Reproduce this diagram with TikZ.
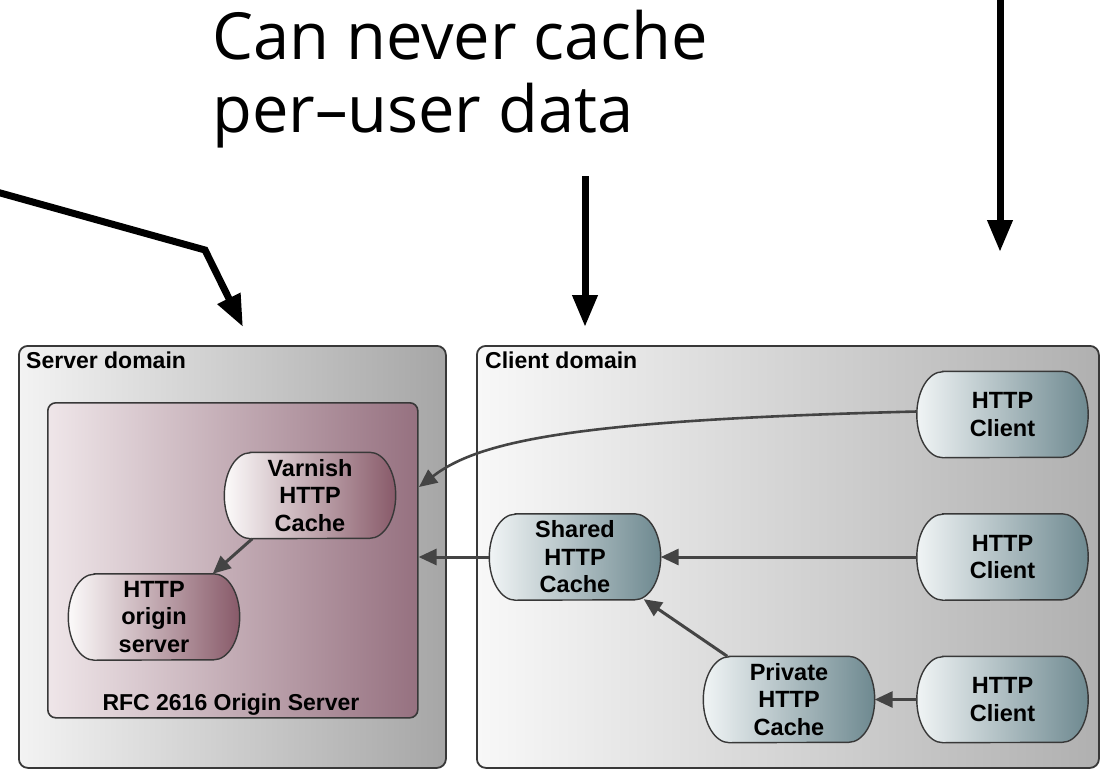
\documentclass[tikz,border=0pt]{standalone}
\usepackage{fontspec}
\setmainfont{Liberation Sans}
\newfontfamily\capfont{Open Sans}
\usetikzlibrary{arrows.meta,calc}
\pgfdeclarelayer{bg}
\pgfdeclarelayer{mid}
\pgfsetlayers{bg,mid,main}
\definecolor{edgegray}{HTML}{383838}
\definecolor{arrgray}{HTML}{444444}
\definecolor{srvL}{HTML}{F3F3F3}
\definecolor{srvR}{HTML}{A6A6A6}
\definecolor{cliL}{HTML}{F8F8F8}
\definecolor{cliR}{HTML}{B0B0B0}
\definecolor{rfcL}{HTML}{EFE6E9}
\definecolor{rfcR}{HTML}{967180}
\definecolor{marL}{HTML}{FCFAFA}
\definecolor{marR}{HTML}{885A69}
\definecolor{bluL}{HTML}{F0F4F5}
\definecolor{bluR}{HTML}{6E8990}
\newcommand\pillpath[1]{($(#1.north west)+(26,0)$) -- ($(#1.north east)+(-26,0)$) arc[start angle=-90,end angle=90,x radius=26,y radius=43] -- ($(#1.south west)+(26,0)$) arc[start angle=90,end angle=270,x radius=26,y radius=43] -- cycle}
\begin{document}
\begin{tikzpicture}[x=1pt,y=-1pt,
  lbl/.style={font=\fontsize{23}{27.5}\selectfont\bfseries, text=black, inner sep=0pt},
  pill/.style={minimum width=171pt, minimum height=86pt, inner sep=0pt, align=center,
    font=\fontsize{23.5}{27.5}\selectfont\bfseries, text=black},
  domainbox/.style={draw=edgegray, line width=1.8pt, rounded corners=9pt, anchor=north west, inner sep=0pt},
  pillmar/.style={draw=edgegray, line width=1.4pt, left color=marL, right color=marR},
  pillblu/.style={draw=edgegray, line width=1.4pt, left color=bluL, right color=bluR},
  arr/.style={draw=arrgray, line width=3pt, -{Triangle[length=18pt,width=16pt]}, arrgray},
  bigarr/.style={draw=black, line width=7pt, line join=miter, -{Triangle[length=32pt,width=24pt]}},
  capline/.style={font=\capfont\fontsize{65}{73}\selectfont, anchor=base west, inner sep=0pt, text=black}]

\path[use as bounding box] (0,0) rectangle (1101,774);

% domain boxes
\begin{pgfonlayer}{bg}
\fill[white] (0,0) rectangle (1101,774);
\node[domainbox, left color=srvL, right color=srvR, minimum width=427pt, minimum height=422pt] (server) at (18,345) {};
\node[domainbox, left color=cliL, right color=cliR, minimum width=622pt, minimum height=422pt] (client) at (476,345) {};
\node[domainbox, line width=1.6pt, rounded corners=8pt, left color=rfcL, right color=rfcR, minimum width=370pt, minimum height=315pt] (rfc) at (47,402) {};
\end{pgfonlayer}

% caption
\node[capline] (cap1) at (212,59) {Can never cache};
\node[capline] (cap2) at (212,132) {per–user data};

\node[lbl, anchor=base west] (slbl) at (26,368) {Server domain};
\node[lbl, anchor=base west] (clbl) at (485,368) {Client domain};
\node[lbl, anchor=base] (rlbl) at (231,710) {RFC 2616 Origin Server};

% pills
\node[pill] (varnish) at (310,495.5) {Varnish\\HTTP\\Cache};
\node[pill] (origin) at (154,617) {HTTP\\origin\\server};
\node[pill] (client1) at (1002.5,414.5) {HTTP\\Client};
\node[pill] (shared) at (575,557) {Shared\\HTTP\\Cache};
\node[pill] (client2) at (1002.5,557) {HTTP\\Client};
\node[pill] (private) at (789,699.5) {Private\\HTTP\\Cache};
\node[pill] (client3) at (1002.5,699.5) {HTTP\\Client};

\begin{pgfonlayer}{mid}
\path[pillmar] \pillpath{varnish};
\path[pillmar] \pillpath{origin};
\path[pillblu] \pillpath{client1};
\path[pillblu] \pillpath{shared};
\path[pillblu] \pillpath{client2};
\path[pillblu] \pillpath{private};
\path[pillblu] \pillpath{client3};
\end{pgfonlayer}

% connectors inside diagram
\coordinate (inA) at (419,487);
\draw[arr, line width=2.6pt] ([yshift=3pt]client1.west) .. controls (580,420) and (480,440) .. (inA);
\draw[arr] (shared.west) -- (shared.west -| rfc.east);
\draw[arr] (client2.west) -- (shared.east);
\draw[arr] ([xshift=24pt]private.north west) -- ([xshift=-17pt,yshift=1pt]shared.south east);
\draw[arr] (client3.west) -- (private.east);
\draw[arr] ([xshift=28pt]varnish.south west) -- ([xshift=-27pt]origin.north east);

% big annotation arrows
\coordinate (lA) at (-5,191.5);
\coordinate (lB) at (205,250);
\coordinate (lC) at (243,327);
\draw[bigarr] (lA) -- (lB) -- (lC);
\coordinate (mA) at (585,176);
\coordinate (mB) at (585,327);
\draw[bigarr] (mA) -- (mB);
\coordinate (rA) at (1000,-5);
\coordinate (rB) at (1000,252);
\draw[bigarr] (rA) -- (rB);
\end{tikzpicture}
\end{document}
